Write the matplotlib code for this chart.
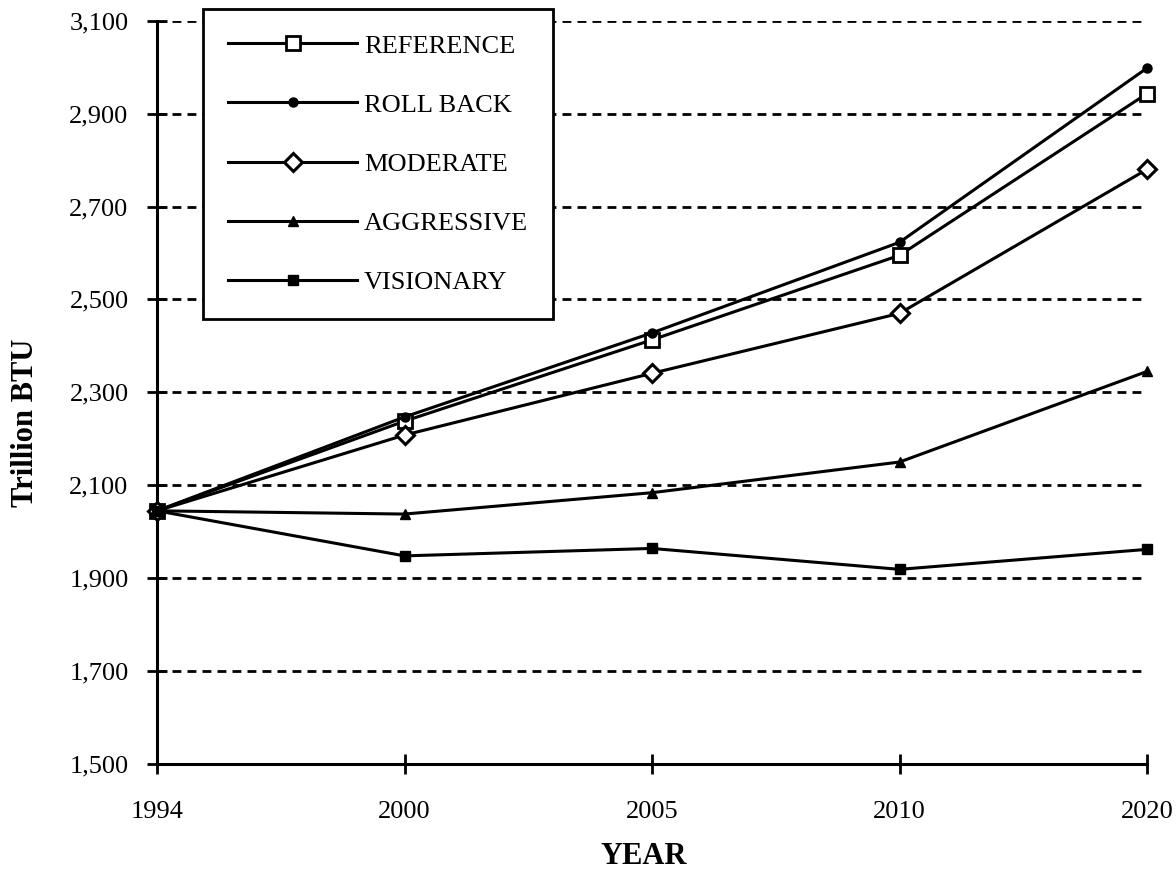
import matplotlib
matplotlib.use("Agg")
import matplotlib.pyplot as plt
from matplotlib.ticker import FixedLocator, FuncFormatter

years = ['1994', '2000', '2005', '2010', '2020']
reference = [2045, 2238, 2413, 2595, 2943]
roll_back = [2045, 2247, 2428, 2623, 2998]
moderate = [2045, 2208, 2341, 2470, 2780]
aggressive = [2045, 2038, 2084, 2150, 2345]
visionary = [2045, 1948, 1964, 1919, 1962]
series_names = ['REFERENCE', 'ROLL BACK', 'MODERATE', 'AGGRESSIVE', 'VISIONARY']
y_ticks = [1500, 1700, 1900, 2100, 2300, 2500, 2700, 2900, 3100]

plt.rcParams['font.family'] = ['Liberation Serif', 'DejaVu Serif']

fig = plt.figure(figsize=(11.76, 8.73), dpi=100)
ax = fig.add_axes([157/1176, 1 - 764/873, (1147-157)/1176, (764-20.7)/873])

styles = [
    dict(marker='s', ms=10, mfc='white', mec='black', mew=2.0),
    dict(marker='o', ms=6.5, mfc='black', mec='black', mew=1.0),
    dict(marker='D', ms=9.5, mfc='white', mec='black', mew=2.2),
    dict(marker='^', ms=7, mfc='black', mec='black', mew=1.0),
    dict(marker='s', ms=7.5, mfc='black', mec='black', mew=1.0),
]
data = [reference, roll_back, moderate, aggressive, visionary]
for name, vals, st in zip(series_names, data, styles):
    ax.plot(years, vals, color='black', lw=2.2, label=name, zorder=3, clip_on=False, **st)

ax.set_xlim(0, len(years) - 1)
ax.set_ylim(y_ticks[0], y_ticks[-1])
ax.yaxis.set_major_locator(FixedLocator(y_ticks))
ax.yaxis.set_major_formatter(FuncFormatter(lambda v, p: f'{int(v):,}'))

for v in y_ticks[1:]:
    ax.axhline(v, color='black', lw=2.0, linestyle=(0, (3.2, 2.2)), zorder=1)

for s in ['top', 'right']:
    ax.spines[s].set_visible(False)
for s in ['left', 'bottom']:
    ax.spines[s].set_linewidth(2.2)

ax.tick_params(axis='both', direction='inout', length=15, width=2.0, labelsize=19, colors='black')
ax.tick_params(axis='y', pad=13)
ax.tick_params(axis='x', pad=19)

ax.set_xlabel('YEAR', fontsize=22, fontweight='bold', va='center')
ax.xaxis.set_label_coords(0.492, -0.1238)
ax.set_ylabel('Trillion BTU', fontsize=22, fontweight='bold', va='center')
ax.yaxis.set_label_coords(-0.1333, 0.459)

leg = ax.legend(loc='upper left', bbox_to_anchor=(203/1176, 1 - 9/873), bbox_transform=fig.transFigure,
                borderaxespad=0, fontsize=19, handlelength=4.9, handletextpad=0.25,
                labelspacing=1.35, borderpad=0.95, numpoints=1, fancybox=False,
                framealpha=1, edgecolor='black', frameon=True)
leg.get_frame().set_linewidth(2.0)
leg.set_zorder(5)

fig.savefig('out.png', dpi=100)
